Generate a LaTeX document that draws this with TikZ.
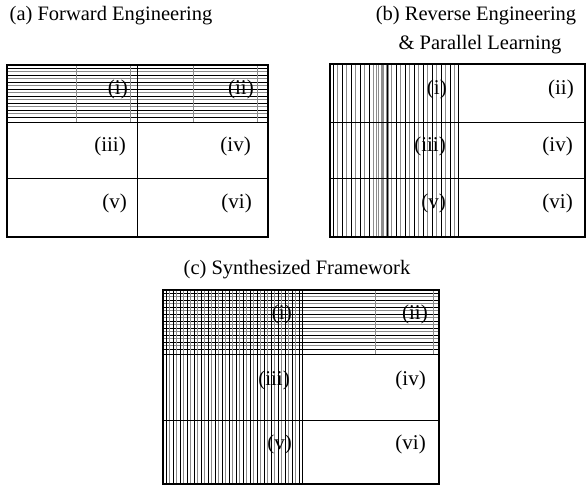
\documentclass[tikz,border=0pt]{standalone}
\usepackage{fontspec}
\setmainfont{Liberation Serif}
\usetikzlibrary{positioning}

\tikzset{
  frame/.style={line width=2.4pt},
  rule/.style={line width=0.9pt},
  hatchdark/.style={line width=0.9pt, black},
  hatchlight/.style={line width=0.9pt, black!45},
  cell/.style={anchor=east, inner sep=0pt, font=\fontsize{21}{25}\selectfont},
  title/.style={inner sep=0pt, font=\fontsize{20.5}{24}\selectfont, align=center}
}

\begin{document}
\begin{tikzpicture}[x=1pt, y=-1pt]
        \useasboundingbox (0,0) rectangle (588,486);

        % titles
        \node [title] (ta) at (111,16) {(a) Forward Engineering};
        \node [title] (tb) at (476,16) {(b) Reverse Engineering};
        \node [title, below=10pt of tb.south, anchor=north, xshift=4pt] (tb2) {\& Parallel Learning};
        \node [title] (tc) at (297,270) {(c) Synthesized Framework};

        % (a) forward engineering
        \foreach \y in {68,75,...,120} \draw [hatchdark] (7,\y) -- (268,\y);
        \foreach \y in {71.5,78.5,...,120} \draw [hatchlight] (7,\y) -- (268,\y);
        \foreach \x in {76,130,193,257} \draw [hatchlight, line width=0.5pt] (\x,65) -- (\x,122);
        \draw [rule] (137,65) -- (137,237);
        \draw [rule] (7,122) -- (268,122);
        \draw [rule] (7,178) -- (268,178);
        \draw [frame] (7,65) rectangle (268,237);
        \node [cell] (a-i) at (128,89) {(i)};
        \node [cell] (a-ii) at (254,89) {(ii)};
        \node [cell] (a-iii) at (126,146) {(iii)};
        \node [cell] (a-iv) at (251,146) {(iv)};
        \node [cell] (a-v) at (127,203) {(v)};
        \node [cell] (a-vi) at (252,203) {(vi)};

        % (b) reverse engineering & parallel learning
        \foreach \x in {333,342,...,456} \draw [hatchdark] (\x,64) -- (\x,237);
        \foreach \x in {337.5,346.5,...,456} \draw [hatchlight] (\x,64) -- (\x,237);
        \foreach \x in {373.5,376,...,392} \draw [hatchlight] (\x,64) -- (\x,237);
        \draw [rule] (458,64) -- (458,237);
        \draw [rule] (330,122) -- (585,122);
        \draw [rule] (330,178) -- (585,178);
        \draw [frame] (330,64) rectangle (585,237);
        \node [cell] (b-i) at (447,89) {(i)};
        \node [cell] (b-ii) at (574,89) {(ii)};
        \node [cell] (b-iii) at (446,146) {(iii)};
        \node [cell] (b-iv) at (573,146) {(iv)};
        \node [cell] (b-v) at (446,203) {(v)};
        \node [cell] (b-vi) at (573,203) {(vi)};

        % (c) synthesized framework
        \foreach \y in {293,300,...,352} \draw [hatchdark] (163,\y) -- (439,\y);
        \foreach \y in {296.5,303.5,...,352} \draw [hatchlight] (163,\y) -- (439,\y);
        \foreach \x in {166,173,...,300} \draw [hatchdark] (\x,290) -- (\x,484);
        \foreach \x in {169.5,176.5,...,300} \draw [hatchlight] (\x,290) -- (\x,484);
        \foreach \x in {375,433} \draw [hatchlight, line width=0.5pt] (\x,290) -- (\x,354);
        \draw [rule] (302,290) -- (302,484);
        \draw [rule] (163,354) -- (439,354);
        \draw [rule] (163,420) -- (439,420);
        \draw [frame] (163,290) rectangle (439,484);
        \node [cell] (c-i) at (292,314) {(i)};
        \node [cell] (c-ii) at (428,314) {(ii)};
        \node [cell] (c-iii) at (290,380) {(iii)};
        \node [cell] (c-iv) at (426,380) {(iv)};
        \node [cell] (c-v) at (292,444) {(v)};
        \node [cell] (c-vi) at (426,444) {(vi)};
    \end{tikzpicture}
\end{document}
